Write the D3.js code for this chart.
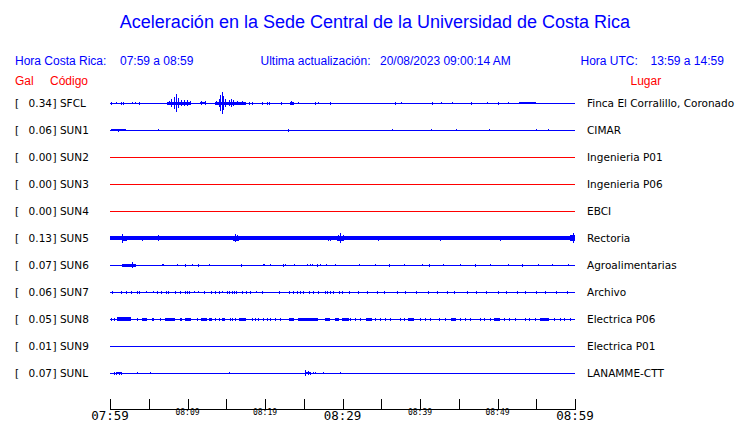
<!DOCTYPE html>
<html><head><meta charset="utf-8">
<script src="https://cdn.jsdelivr.net/npm/d3@7"></script>
<style>body{margin:0;background:#fff}svg{display:block}</style>
</head><body>
<script>
// ---------- data ----------
const stations = ["SFCL","SUN1","SUN2","SUN3","SUN4","SUN5","SUN6","SUN7","SUN8","SUN9","SUNL"];
const peakGal  = [0.34,0.06,0.00,0.00,0.00,0.13,0.07,0.06,0.05,0.01,0.07];
const places   = ["Finca El Corralillo, Coronado","CIMAR","Ingenieria P01","Ingenieria P06","EBCI","Rectoria","Agroalimentarias","Archivo","Electrica P06","Electrica P01","LANAMME-CTT"];
const noiseLevel = [0.5,0.5,0.5,0.5,0.5,1.6,0.5,0.5,0.5,0.5,0.5];
const tickMinutes = [0,5,10,15,20,25,30,35,40,45,50,55,60];
const tickLabels = {0:"07:59",10:"08:09",20:"08:19",30:"08:29",40:"08:39",50:"08:49",60:"08:59"};
const majorLabels = [0,30,60];

// spikes: [minute after 07:59, amplitude]; bursts: [start minute, end minute, amplitude]
const spikesSFCL = [[0.13,1.5],[0.77,1],[1.4,1.5],[1.7,1.5],[2.8,1],[3.2,1],[3.7,1.5],
  [7.6,2],[7.9,4],[8.2,6],[8.5,9],[8.8,5],[9.1,3],[9.6,3],[9.9,3],[10.3,2],[11.8,2],[12.2,2],
  [13.7,2],[14.0,4],[14.2,8],[14.4,11],[14.6,7],[14.9,4],[15.3,3],[15.6,4],[15.9,3],[16.4,2],[17.0,2],
  [17.9,1.5],[18.3,1.5],[19.6,1.5],[20.2,1.5],[20.5,1.5],[22.1,1.5],[23.4,2],[24.2,1],[26.4,1.5],[26.8,1],[28.4,1.5],
  [36.8,1.5],[37.6,1],[41.5,1.5],[42.7,1],[44.1,1],[46.6,1.5],[48.6,1],[50.1,1.5],[51.4,1]];
const burstsSFCL = [[7.4,10.5,1.5],[11.6,12.4,1.2],[13.5,17.5,1.5],[23.2,23.8,1.5],[52.8,55.0,1]];
const spikesSUN1 = [[0.2,1],[0.6,1],[1.0,1.5],[1.4,1],[1.8,1],[6.2,1],[23.0,1.5],[36.4,1],[41.4,1],[44.6,1],[48.9,1],[55.0,1],[56.5,1]];
const burstsSUN1 = [[0.1,2.0,0.7]];
const spikesSUN5 = [[1.6,4.5],[2.0,2.5],[4.1,2.5],[6.2,3],[6.8,2],[7.3,2],[8.6,2],[16.1,4],[16.4,3],[19.8,2],[22.8,2],[25.2,2],[28.1,2.5],[28.4,2.5],[29.4,3],[29.7,5],[30.0,3],[34.6,2.5],[42.6,2.5],[50.3,2.5],[59.7,5]];
const burstsSUN5 = [[1.5,2.2,2.5],[15.9,16.6,2.5],[29.3,30.2,2.5],[59.4,60,3]];
const spikesSUN6 = [[2.9,2.7],[6.7,1],[6.9,1],[8.7,0.7],[9.7,1.5],[10.6,1],[11.3,1.5],[12.8,1],[16.9,1.5],[19.7,1],[19.9,1],[20.6,1],[22.3,1.5],[22.6,1],[23.8,1],[25.4,1],[25.8,1],[26.1,1],[26.7,1.5],[27.1,1],[27.9,1],[29.0,1],
  [32.1,1],[34.2,1],[36.0,1.5],[37.9,1],[40.2,1],[41.1,1.5],[43.0,1],[45.2,1],[47.1,1.5],[49.0,1],[51.3,1],[53.1,1.5],[55.2,1],[57.0,1],[59.1,1]];
const burstsSUN6 = [[1.5,3.4,1.5]];
const spikesSUN7 = [[0.2,1.5],[1.4,1.5],[2.1,1.5],[2.7,1.5],[3.5,1.5],[3.7,1.5],[4.6,1],[5.5,1],[6.0,1.5],[6.6,1.5],[7.2,1.5],[7.5,1.5],[8.4,1.5],[9.0,1.5],[9.7,1.5],[9.9,1.5],[10.2,1.5],[10.8,1],[11.4,1],[12.1,1.5],[13.0,1.5],[13.6,1.5],[14.0,1.5],[14.5,1],[15.1,1.5],[15.3,1.5],[15.7,1.5],[16.0,1.5],[16.3,1.5],[17.0,1.5],[17.6,1.5],[18.1,1.5],[18.8,1],[19.6,1.5],[21.8,1.5],[23.1,1.5],[23.6,1.5],[24.1,1.5],[24.5,1.5],[24.9,1.5],[25.7,1.5],[26.2,1.5],[26.9,1.5],[27.7,1.5],[28.0,1.5],[28.4,1.5],[28.8,1.5],[29.6,1.5],[29.9,1.5],[30.8,1.5],
  [32.0,1.5],[33.1,1.5],[34.5,1.5],[35.4,1.5],[37.0,1.5],[38.1,1.5],[39.5,1.5],[41.0,1.5],[42.2,1.5],[43.5,1.5],[44.4,1.5],[46.0,1.5],[47.2,1.5],[48.5,1.5],[50.0,1.5],[51.1,1.5],[52.5,1.5],[53.6,1.5],[55.0,1.5],[56.1,1.5],[57.5,1.5],[59.0,1.5]];
const burstsSUN7 = [];
const spikesSUN8 = [[0.13,1.5],[0.5,1.5],[3.45,1.5],[4.1,1.5],[4.7,1.5],[5.4,1.5],[5.6,1.5],[6.5,1.5],[9.0,1.5],[9.2,1.5],[11.2,1.5],[13.6,1.5],[14.0,1.5],[15.5,1.5],[15.8,1.5],[16.1,1.5],[18.3,1.5],[18.7,1.5],[19.1,1.5],[19.8,1.5],[20.2,1.5],[20.6,1.5],[21.3,1.5],[21.9,1.5],
  [31.0,1.5],[31.6,1.5],[32.3,1.5],[34.2,1.5],[34.8,1.5],[35.5,1.5],[36.1,1.5],[37.4,1.5],[38.0,1.5],[40.0,1.5],[40.6,1.5],[41.3,1.5],[42.5,1.5],[43.2,1.5],[45.1,1.5],[45.8,1.5],[46.4,1.5],[47.7,1.5],[48.3,1.5],[49.0,1.5],[50.9,1.5],[51.5,1.5],[52.2,1.5],[53.5,1.5],[54.1,1.5],[54.8,1.5],[57.3,1.5],[58.0,1.5],[58.6,1.5],[59.3,1.5]];
const burstsSUN8 = [[0.9,2.7,2],[4.1,4.8,1.5],[7.1,8.4,1.5],[9.7,10.5,1.5],[11.8,12.5,1.5],[12.8,13.1,1.5],[14.4,14.8,1.5],[16.6,17.6,1.5],[23.1,23.7,1.5],[24.3,24.9,1.5],[24.9,26.9,1.5],[27.7,28.4,1.5],[29.0,29.6,1.5],[29.9,30.8,1.5],
  [33.0,33.8,1.5],[38.5,39.2,1.5],[44.0,44.6,1.5],[49.5,50.3,1.5],[55.5,56.6,1.5]];
const spikesSUN9 = [];
const burstsSUN9 = [];
const spikesSUNL = [[0.5,1.5],[0.8,1.5],[1.1,1.5],[1.4,1.5],[3.5,1],[5.2,1],[14.0,0.5],[15.3,1],[25.2,3],[25.5,2],[25.8,1.5],[26.2,1],[26.5,1],[27.5,1],[29.7,1]];
const burstsSUNL = [[0.9,1.4,1],[25.1,25.9,1.2]];

const spikes = [spikesSFCL,spikesSUN1,[],[],[],spikesSUN5,spikesSUN6,spikesSUN7,spikesSUN8,spikesSUN9,spikesSUNL];
const bursts = [burstsSFCL,burstsSUN1,[],[],[],burstsSUN5,burstsSUN6,burstsSUN7,burstsSUN8,burstsSUN9,burstsSUNL];

// ---------- drawing ----------
const W = 740, H = 423;
const BLUE = "#0000ff", RED = "#ff0000";
const svg = d3.select("body").append("svg").attr("width", W).attr("height", H);

const x = d3.scaleLinear().domain([0, 60]).range([110, 575]);
const y = d3.scalePoint().domain(stations).range([103, 373]);
const amp = d3.scaleLinear().domain([-13, 13]).range([13, -13]);

svg.append("text").attr("x", 375).attr("y", 28).attr("text-anchor", "middle")
  .attr("fill", BLUE).style("font", "18px 'Liberation Sans', Arial, sans-serif")
  .text("Aceleración en la Sede Central de la Universidad de Costa Rica");

const hdr = (t, xx, yy, col) => svg.append("text").attr("x", xx).attr("y", yy).attr("fill", col)
  .style("font", "12px 'Liberation Sans', Arial, sans-serif").text(t);
hdr("Hora Costa Rica:", 15, 65, BLUE);
hdr("07:59 a 08:59", 120, 65, BLUE);
hdr("Ultima actualización:", 260.5, 65, BLUE);
hdr("20/08/2023 09:00:14 AM", 380, 65, BLUE);
hdr("Hora UTC:", 580.5, 65, BLUE);
hdr("13:59 a 14:59", 650.5, 65, BLUE);
hdr("Gal", 15, 85, RED);
hdr("Código", 50, 85, RED);
hdr("Lugar", 630.5, 85, RED);

const lab = "10.5px 'DejaVu Sans', sans-serif";
stations.forEach((s, i) => {
  const yy = y(s);
  const col = peakGal[i] === 0 ? RED : BLUE;
  const g = svg.append("g");
  g.append("text").attr("x", 15).attr("y", yy).attr("dy", "0.36em").style("font", lab).text("[");
  g.append("text").attr("x", 52).attr("y", yy).attr("dy", "0.36em").attr("text-anchor", "end").style("font", lab).text(peakGal[i].toFixed(2));
  g.append("text").attr("x", 52.5).attr("y", yy).attr("dy", "0.36em").style("font", lab).text("] " + s);
  g.append("text").attr("x", 587).attr("y", yy).attr("dy", "0.36em").style("font", lab).text(places[i]);

  const tr = g.append("g").attr("shape-rendering", "crispEdges");
  const nl = noiseLevel[i];
  tr.append("rect").attr("x", x(0)).attr("width", x(60) - x(0))
    .attr("y", yy + amp(nl)).attr("height", amp(-nl) - amp(nl)).attr("fill", col);
  tr.selectAll("rect.b").data(bursts[i]).join("rect").attr("class", "b")
    .attr("x", d => x(d[0])).attr("width", d => Math.max(1, x(d[1]) - x(d[0])))
    .attr("y", d => yy + amp(d[2])).attr("height", d => amp(-d[2]) - amp(d[2])).attr("fill", col);
  tr.selectAll("line.s").data(spikes[i]).join("line").attr("class", "s")
    .attr("x1", d => Math.round(x(d[0])) + 0.5).attr("x2", d => Math.round(x(d[0])) + 0.5)
    .attr("y1", d => yy + amp(d[1])).attr("y2", d => yy + amp(-d[1]))
    .attr("stroke", col).attr("stroke-width", 1);
});

// time axis
const ax = svg.append("g").attr("shape-rendering", "crispEdges");
ax.append("line").attr("x1", x(0)).attr("x2", x(60) + 1).attr("y1", 409.5).attr("y2", 409.5).attr("stroke", "#000");
ax.selectAll("line.t").data(tickMinutes).join("line").attr("class", "t")
  .attr("x1", d => Math.round(x(d)) + 0.5).attr("x2", d => Math.round(x(d)) + 0.5)
  .attr("y1", 399).attr("y2", 409.5).attr("stroke", "#000");
svg.append("g").selectAll("text").data(Object.keys(tickLabels).map(Number)).join("text")
  .attr("x", d => x(d)).attr("y", d => majorLabels.includes(d) ? 419.5 : 414.5)
  .attr("text-anchor", "middle")
  .style("font", d => majorLabels.includes(d) ? "12.5px 'DejaVu Sans Mono', monospace" : "8px 'DejaVu Sans Mono', monospace")
  .text(d => tickLabels[d]);
</script>
</body></html>
